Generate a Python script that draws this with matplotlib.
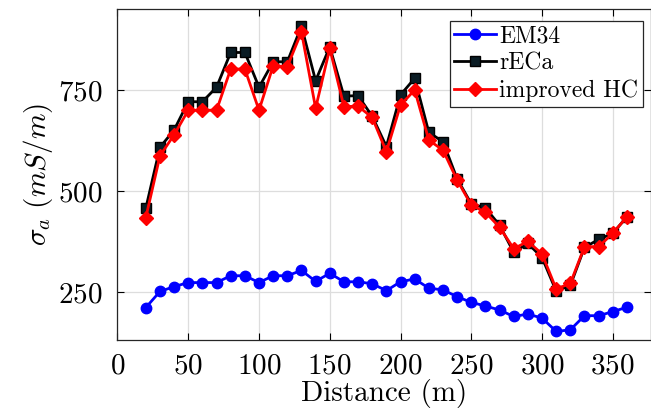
import matplotlib
matplotlib.use("Agg")
import matplotlib.pyplot as plt

plt.rcParams['font.family'] = ['cmr10', 'DejaVu Serif']
plt.rcParams['mathtext.fontset'] = 'cm'
plt.rcParams['axes.formatter.use_mathtext'] = True

distance = [20, 30, 40, 50, 60, 70, 80, 90, 100, 110, 120, 130, 140, 150, 160, 170, 180,
            190, 200, 210, 220, 230, 240, 250, 260, 270, 280, 290, 300, 310, 320, 330,
            340, 350, 360]
em34 = [211, 251, 263, 273, 273, 273, 290, 290, 273, 290, 290, 303, 276, 296, 275, 275, 270,
        253, 275, 282, 259, 255, 238, 224, 215, 205, 189, 195, 185, 152, 156, 191,
        191, 201, 212]
reca = [457, 608, 651, 721, 721, 757, 843, 843, 757, 820, 820, 908, 773, 857, 735, 736, 685,
        610, 738, 779, 645, 622, 530, 468, 458, 415, 348, 370, 335, 252, 266, 360,
        380, 395, 436]
improved_hc = [434, 587, 639, 700, 700, 700, 802, 802, 700, 810, 808, 894, 705, 853, 709, 710, 682,
               597, 713, 750, 626, 601, 527, 465, 447, 410, 357, 375, 344, 257, 271, 362,
               362, 395, 436]

x_ticks = [0, 50, 100, 150, 200, 250, 300, 350]
y_ticks = [250, 500, 750]
labels = ['EM34', 'rECa', 'improved HC']

fig = plt.figure(figsize=(6.51, 4.16), dpi=100)
ax = fig.add_axes([117.5 / 651, 1 - 340.3 / 416, (651 - 117.5) / 651, (340.3 - 9.3) / 416])

ax.plot(distance, em34, color='#0000ff', lw=2.0, marker='o', ms=7.5, label=labels[0], zorder=3)
ax.plot(distance, reca, color='black', lw=2.0, marker='s', ms=6.5, mfc='#0a1c24', mec='black',
        label=labels[1], zorder=4)
ax.plot(distance, improved_hc, color='#ff0000', lw=2.0, marker='D', ms=7, label=labels[2], zorder=5)

ax.set_xlim(0, 377)
ax.set_ylim(130, 950)
ax.set_xticks(x_ticks)
ax.set_yticks(y_ticks)
ax.grid(True, color='#dddddd', lw=0.9)
ax.set_axisbelow(True)
ax.tick_params(direction='in', top=True, right=True, length=5, labelsize=21, width=0.8)
ax.tick_params(axis='x', pad=9)
ax.tick_params(axis='y', pad=11)
for s in ax.spines.values():
    s.set_color('#262626')
    s.set_linewidth(0.9)

ax.set_xlabel('Distance (m)', fontsize=21, labelpad=0)
ax.set_ylabel(r'$\sigma_a\ (mS/m)$', fontsize=21, labelpad=2)

leg = ax.legend(loc='upper right', bbox_to_anchor=(0.985, 0.965), borderaxespad=0,
                fontsize=17, fancybox=False, framealpha=1, edgecolor='#262626',
                handlelength=1.75, handletextpad=0.15, borderpad=0.2, labelspacing=0.2)
leg.get_frame().set_linewidth(0.9)

fig.savefig('out.png', dpi=100)
